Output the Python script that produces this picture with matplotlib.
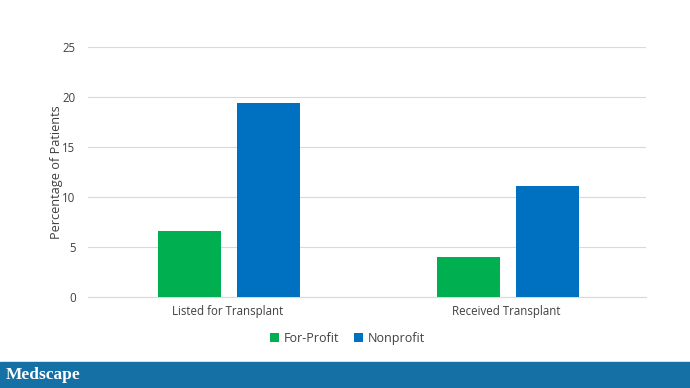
import matplotlib
matplotlib.use("Agg")
import matplotlib.pyplot as plt
import numpy as np
from matplotlib.patches import Rectangle

categories = ["Listed for Transplant", "Received Transplant"]
series_names = ["For-Profit", "Nonprofit"]
for_profit = [6.6, 4.0]
nonprofit = [19.4, 11.1]
yticks = [0, 5, 10, 15, 20, 25]

plt.rcParams['font.family'] = ['Open Sans', 'DejaVu Sans']

fig = plt.figure(figsize=(6.9, 3.88), dpi=100)
ax = fig.add_axes([88/690, 1-297/388, (646-88)/690, (297-47)/388])

x = np.arange(len(categories))
w = 0.226
gap = 0.057
c_green = "#00b050"
c_blue = "#0070c0"
ax.bar(x - (w+gap)/2 + 0.006, for_profit, w, color=c_green, label=series_names[0], zorder=3)
ax.bar(x + (w+gap)/2 + 0.006, nonprofit, w, color=c_blue, label=series_names[1], zorder=3)

ax.set_xlim(-0.5, 1.5)
ax.set_ylim(0, 25)
ax.set_yticks(yticks)
ax.set_yticklabels([str(v) for v in yticks])
ax.set_xticks(x)
ax.set_xticklabels(categories)
ax.grid(axis='y', color='#d9d9d9', linewidth=0.8, zorder=0)
for s in ['top', 'right', 'left']:
    ax.spines[s].set_visible(False)
ax.spines['bottom'].set_color('#d9d9d9')
ax.spines['bottom'].set_linewidth(0.8)
ax.tick_params(axis='both', length=0, colors='#404040', labelsize=8.3)
ax.tick_params(axis='y', pad=9)
ax.tick_params(axis='x', pad=6)
ax.set_ylabel("Percentage of Patients", fontsize=9.2, color='#404040')
ax.yaxis.set_label_coords(-0.045, 0.5)

leg = ax.legend(loc='upper center', bbox_to_anchor=(0.465, -0.095), ncol=2, frameon=False,
                fontsize=9, handlelength=0.7, handleheight=0.7, columnspacing=1.2,
                handletextpad=0.4, labelcolor='#404040')

# footer
fig.patches.append(Rectangle((0, 0), 1, 26/388, transform=fig.transFigure,
                             color='#1570a6', zorder=0))
fig.text(6/690, 13/388, "Medscape", color='white', fontsize=12.5, fontweight='bold',
         family=['Liberation Serif', 'DejaVu Serif'], va='center', ha='left')

fig.savefig("out.png", dpi=100)
